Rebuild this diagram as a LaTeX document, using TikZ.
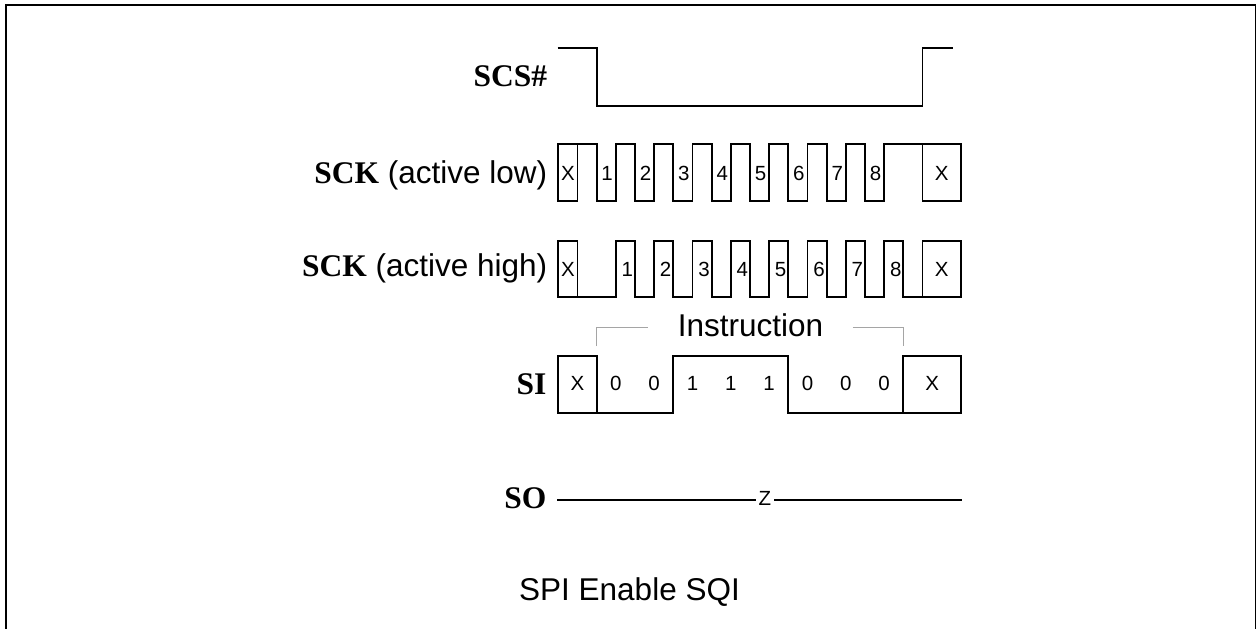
\documentclass[tikz,border=0pt]{standalone}
\usepackage{fontspec}
\setmainfont{Liberation Sans}
\newfontfamily\tmsfont{Liberation Serif}
\begin{document}
\begin{tikzpicture}[x=1pt,y=-1pt,
  wave/.style={line width=1.8pt, line join=miter},
  bigsans/.style={font=\fontsize{31.5}{36}\selectfont, inner sep=0pt},
  sigl/.style={font=\fontsize{31.5}{36}\selectfont, inner sep=0pt, anchor=base east},
  small/.style={font=\fontsize{20.5}{24}\selectfont, inner sep=0pt, anchor=base},
  brk/.style={line width=1.5pt, color=brkgray}]
\definecolor{brkgray}{RGB}{165,165,165}
\clip (0,0) rectangle (1256,629);
\fill[white] (0,0) rectangle (1256,629);
% frame
\draw[line width=2pt] (5.7,640) -- (5.7,5.3) -- (1255.5,5.3) -- (1255.5,640);

% signal labels
\node[sigl] (lscs) at (547.3,86) {\tmsfont\bfseries SCS\#};
\node[sigl] (lsckl) at (547.3,183.5) {{\tmsfont\bfseries SCK} (active low)};
\node[sigl] (lsckh) at (547.3,276.7) {{\tmsfont\bfseries SCK} (active high)};
\node[sigl] (lsi) at (546.7,394) {\tmsfont\bfseries SI};
\node[sigl] (lso) at (546.7,508.3) {\tmsfont\bfseries SO};

\begin{scope}[shift={(558.3pt,0pt)}, x=19.17pt, y=-1pt]
  % SCS#
  \draw[wave] (-0.03,48.3) -- (2,48.3) -- (2,106) -- (19,106) -- (19,48.3) -- (20.57,48.3);
  % SCK active low
  \draw[wave] (0,144.3) rectangle (1,200.7);
  \draw[wave] (1,144.3) foreach \i in {1,...,8}{ -- ({2*\i},144.3) -- ({2*\i},200.7) -- ({2*\i+1},200.7) -- ({2*\i+1},144.3)} -- (19,144.3);
  \draw[wave] (19,144.3) rectangle (21,200.7);
  \node[small] (lx1) at (0.5,180) {X};
  \node[small] (lx2) at (20,180) {X};
  \foreach \i in {1,...,8}{ \node[small] (la\i) at ({2*\i+0.55},180) {\i}; }
  % SCK active high
  \draw[wave] (0,240.7) rectangle (1,297.3);
  \draw[wave] (1,297.3) foreach \i in {1,...,8}{ -- ({2*\i+1},297.3) -- ({2*\i+1},240.7) -- ({2*\i+2},240.7) -- ({2*\i+2},297.3)} -- (19,297.3);
  \draw[wave] (19,240.7) rectangle (21,297.3);
  \node[small] (hx1) at (0.5,276.7) {X};
  \node[small] (hx2) at (20,276.7) {X};
  \foreach \i in {1,...,8}{ \node[small] (ha\i) at ({2*\i+1.6},276.7) {\i}; }
  % Instruction bracket
  \draw[brk] (2,346) -- (2,327.3) -- (4.69,327.3);
  \draw[brk] (15.36,327.3) -- (18,327.3) -- (18,346);
  % SI
  \draw[wave] (0,355.7) rectangle (2,413.3);
  \draw[wave] (2,413.3) -- (6,413.3) -- (6,355.7) -- (12,355.7) -- (12,413.3) -- (18,413.3);
  \draw[wave] (18,355.7) rectangle (21,413.3);
  \node[small] (sx1) at (1,390.7) {X};
  \node[small] (sx2) at (19.5,390.7) {X};
  \foreach \v [count=\j] in {0,0,1,1,1,0,0,0}{ \node[small] (sb\j) at ({2*\j+1},390.7) {\v}; }
\end{scope}

\node[bigsans, anchor=base] (instr) at (750.5,336.7) {Instruction};

% SO
\coordinate (so0) at (557.3,500);
\coordinate (so1) at (962.3,500);
\node[small, inner xsep=3pt] (z) at (765,505) {Z};
\draw[line width=1.6pt] (so0) -- (so0 -| z.west);
\draw[line width=1.6pt] (so1 -| z.east) -- (so1);

\node[bigsans, anchor=base west] (title) at (519,600.5) {SPI Enable SQI};
\end{tikzpicture}
\end{document}
